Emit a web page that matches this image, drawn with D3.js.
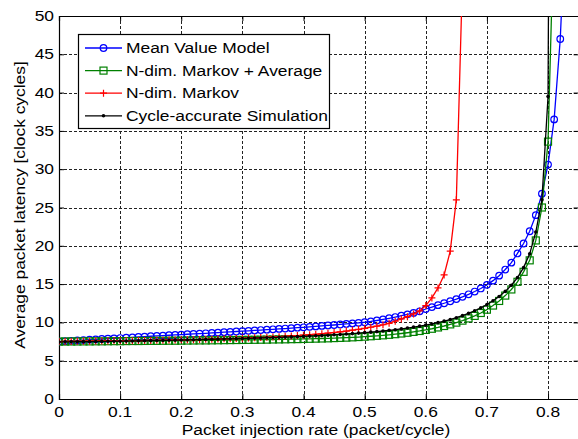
<!DOCTYPE html>
<html>
<head>
<meta charset="utf-8">
<script src="https://cdn.jsdelivr.net/npm/d3@7"></script>
<style>
  body { margin: 0; background: #fff; }
  text { font-family: "Liberation Sans", Arial, Helvetica, sans-serif; fill: #000; }
</style>
</head>
<body>
<div id="chart"></div>
<script>
// injection rates (packet/cycle), step 0.01
var rates = d3.range(0, 84).map(i => +(i / 100).toFixed(2));

// mean value model, 0.00 .. 0.83
var meanValue = [7.50, 7.55, 7.60, 7.64, 7.69, 7.74, 7.78, 7.83, 7.87, 7.92,
  7.96, 8.01, 8.05, 8.10, 8.14, 8.19, 8.23, 8.28, 8.32, 8.37,
  8.41, 8.45, 8.50, 8.54, 8.58, 8.63, 8.67, 8.72, 8.76, 8.81,
  8.86, 8.90, 8.95, 9.00, 9.05, 9.10, 9.15, 9.20, 9.25, 9.31,
  9.36, 9.42, 9.48, 9.54, 9.60, 9.66, 9.73, 9.80, 9.87, 9.94,
  10.02, 10.12, 10.25, 10.39, 10.54, 10.70, 10.87, 11.05, 11.24, 11.45,
  11.75, 12.00, 12.25, 12.50, 12.76, 13.04, 13.34, 13.67, 14.03, 14.43,
  14.90, 15.45, 16.10, 16.90, 17.80, 19.00, 20.30, 21.90, 24.00, 26.80,
  30.60, 36.50, 47.00, 65.0];

// N-dim. Markov + Average, 0.00 .. 0.81
var markovAvg = [7.50, 7.50, 7.51, 7.51, 7.52, 7.52, 7.53, 7.53, 7.54, 7.55,
  7.55, 7.56, 7.57, 7.57, 7.58, 7.59, 7.59, 7.60, 7.61, 7.61,
  7.62, 7.63, 7.64, 7.65, 7.65, 7.66, 7.67, 7.68, 7.69, 7.70,
  7.71, 7.72, 7.73, 7.74, 7.75, 7.77, 7.78, 7.79, 7.81, 7.82,
  7.84, 7.86, 7.88, 7.90, 7.92, 7.95, 7.98, 8.01, 8.05, 8.09,
  8.14, 8.19, 8.25, 8.31, 8.38, 8.46, 8.55, 8.65, 8.76, 8.88,
  9.02, 9.17, 9.34, 9.53, 9.74, 9.97, 10.23, 10.52, 10.85, 11.23,
  11.66, 12.20, 12.80, 13.50, 14.30, 15.30, 16.60, 18.10, 20.70, 25.00,
  33.60, 63.0];

// N-dim. Markov, 0.00 .. 0.66
var markov = [7.50, 7.51, 7.52, 7.53, 7.54, 7.55, 7.56, 7.57, 7.58, 7.59,
  7.60, 7.61, 7.62, 7.63, 7.64, 7.65, 7.66, 7.68, 7.69, 7.71,
  7.72, 7.74, 7.75, 7.77, 7.79, 7.81, 7.83, 7.85, 7.88, 7.90,
  7.93, 7.96, 7.99, 8.02, 8.06, 8.10, 8.14, 8.18, 8.23, 8.28,
  8.33, 8.39, 8.45, 8.52, 8.60, 8.68, 8.77, 8.87, 8.98, 9.10,
  9.23, 9.37, 9.52, 9.69, 9.88, 10.15, 10.45, 10.75, 11.10, 11.50,
  12.20, 13.20, 14.50, 16.20, 19.30, 26.00, 55.0];

// cycle-accurate simulation, 0.00 .. 0.81
var simulation = [7.45, 7.46, 7.47, 7.48, 7.49, 7.50, 7.51, 7.52, 7.53, 7.54,
  7.55, 7.56, 7.58, 7.59, 7.60, 7.62, 7.63, 7.65, 7.66, 7.68,
  7.70, 7.72, 7.74, 7.76, 7.78, 7.80, 7.82, 7.84, 7.86, 7.88,
  7.90, 7.92, 7.95, 7.97, 8.00, 8.02, 8.05, 8.08, 8.11, 8.14,
  8.17, 8.21, 8.25, 8.29, 8.33, 8.38, 8.43, 8.48, 8.54, 8.60,
  8.66, 8.73, 8.80, 8.88, 8.96, 9.05, 9.15, 9.26, 9.38, 9.51,
  9.65, 9.80, 9.97, 10.16, 10.37, 10.61, 10.88, 11.18, 11.52, 11.90,
  12.33, 12.82, 13.39, 14.05, 14.85, 15.85, 17.15, 18.95, 21.80, 26.00,
  39.50, 200.0];

var seriesNames = ["Mean Value Model", "N-dim. Markov + Average", "N-dim. Markov", "Cycle-accurate Simulation"];
var seriesColors = ["#0000ff", "#008000", "#ff0000", "#000000"];
var seriesMarkers = ["circle", "square", "plus", "dot"];
var seriesValues = [meanValue, markovAvg, markov, simulation];

var xTicks = [0, 0.1, 0.2, 0.3, 0.4, 0.5, 0.6, 0.7, 0.8];
var yTicks = [0, 5, 10, 15, 20, 25, 30, 35, 40, 45, 50];

var svgWidth = 578, svgHeight = 439;
var plot = { left: 59, right: 578.6, top: 16, bottom: 399 };
var sx = 1.2; // horizontal text stretch of the original export

var svg = d3.select("#chart").append("svg")
  .attr("width", svgWidth)
  .attr("height", svgHeight);

var x = d3.scaleLinear().domain([0, 0.85]).range([plot.left, plot.right]);
var y = d3.scaleLinear().domain([0, 50]).range([plot.bottom, plot.top]);

function label(g, tx, ty, str, anchor, rot) {
  return g.append("text")
    .attr("transform", `translate(${tx},${ty}) rotate(${rot || 0}) scale(${sx},1)`)
    .attr("text-anchor", anchor)
    .style("font-size", "14.5px")
    .text(str);
}

// grid
svg.append("g").selectAll("line").data(xTicks.slice(1)).enter().append("line")
  .attr("x1", d => Math.round(x(d)) + 0.5).attr("x2", d => Math.round(x(d)) + 0.5)
  .attr("y1", plot.top).attr("y2", plot.bottom)
  .attr("stroke", "#222").attr("stroke-dasharray", "3,2");
svg.append("g").selectAll("line").data(yTicks.slice(1, -1)).enter().append("line")
  .attr("y1", d => Math.round(y(d)) + 0.5).attr("y2", d => Math.round(y(d)) + 0.5)
  .attr("x1", plot.left).attr("x2", plot.right)
  .attr("stroke", "#222").attr("stroke-dasharray", "3,2");

// axes with inward ticks
var bottomAxis = d3.axisBottom(x).tickValues(xTicks).tickSize(-5).tickFormat("");
var leftAxis = d3.axisLeft(y).tickValues(yTicks).tickSize(-5).tickFormat("");
var topAxis = d3.axisTop(x).tickValues(xTicks).tickSize(-5).tickFormat("");
var rightAxis = d3.axisRight(y).tickValues(yTicks).tickSize(-5).tickFormat("");

svg.append("g").attr("transform", `translate(0,${plot.bottom})`).call(bottomAxis);
svg.append("g").attr("transform", `translate(${plot.left},0)`).call(leftAxis);
svg.append("g").attr("transform", `translate(0,${plot.top})`).call(topAxis);
svg.append("g").attr("transform", `translate(${plot.right},0)`).call(rightAxis);
svg.selectAll(".domain").attr("stroke", "#000").attr("stroke-width", 1.2);
svg.selectAll(".tick line").attr("stroke", "#000");

// tick labels
xTicks.forEach(function(t) {
  label(svg, x(t), 417, t === 0 ? "0" : d3.format(".1f")(t), "middle");
});
yTicks.forEach(function(t) {
  label(svg, 54, y(t) + 5, String(t), "end");
});

// axis titles
label(svg, 316, 435, "Packet injection rate (packet/cycle)", "middle");
label(svg, 25, 205, "Average packet latency [clock cycles]", "middle", -90);

// data
svg.append("clipPath").attr("id", "plotclip").append("rect")
  .attr("x", plot.left).attr("y", plot.top)
  .attr("width", plot.right - plot.left).attr("height", plot.bottom - plot.top);

var dataGroup = svg.append("g").attr("clip-path", "url(#plotclip)");

function drawMarker(g, type, color) {
  if (type === "circle") {
    g.append("circle").attr("r", 3.3).attr("fill", "none")
      .attr("stroke", color).attr("stroke-width", 1.2);
  } else if (type === "square") {
    g.append("rect").attr("x", -3.5).attr("y", -3.5).attr("width", 7).attr("height", 7)
      .attr("fill", "none").attr("stroke", color).attr("stroke-width", 1.2);
  } else if (type === "plus") {
    g.append("path").attr("d", "M-3.5,0H3.5M0,-3.5V3.5")
      .attr("stroke", color).attr("stroke-width", 1.2);
  } else {
    g.append("circle").attr("r", 1.8).attr("fill", color);
  }
}

var line = d3.line().x(d => x(d[0])).y(d => y(d[1]));

seriesValues.forEach(function(vals, i) {
  var pts = vals.map((v, j) => [rates[j], v]);
  dataGroup.append("path")
    .datum(pts)
    .attr("d", line)
    .attr("fill", "none")
    .attr("stroke", seriesColors[i])
    .attr("stroke-width", 1.3);
  dataGroup.selectAll(null)
    .data(pts)
    .enter()
    .append("g")
    .attr("transform", d => `translate(${x(d[0])},${y(d[1])})`)
    .each(function() { drawMarker(d3.select(this), seriesMarkers[i], seriesColors[i]); });
});

// legend
var legend = svg.append("g");
legend.append("rect")
  .attr("x", 78.5).attr("y", 34.5).attr("width", 251).attr("height", 94)
  .attr("fill", "#fff").attr("stroke", "#000").attr("stroke-width", 1.2);

seriesNames.forEach(function(name, i) {
  var ly = 48 + i * 22.6;
  legend.append("line")
    .attr("x1", 85).attr("x2", 122).attr("y1", ly).attr("y2", ly)
    .attr("stroke", seriesColors[i]).attr("stroke-width", 1.3);
  var m = legend.append("g").attr("transform", `translate(103.5,${ly})`);
  drawMarker(m, seriesMarkers[i], seriesColors[i]);
  label(legend, 126, ly + 5, name, "start");
});
</script>
</body>
</html>
